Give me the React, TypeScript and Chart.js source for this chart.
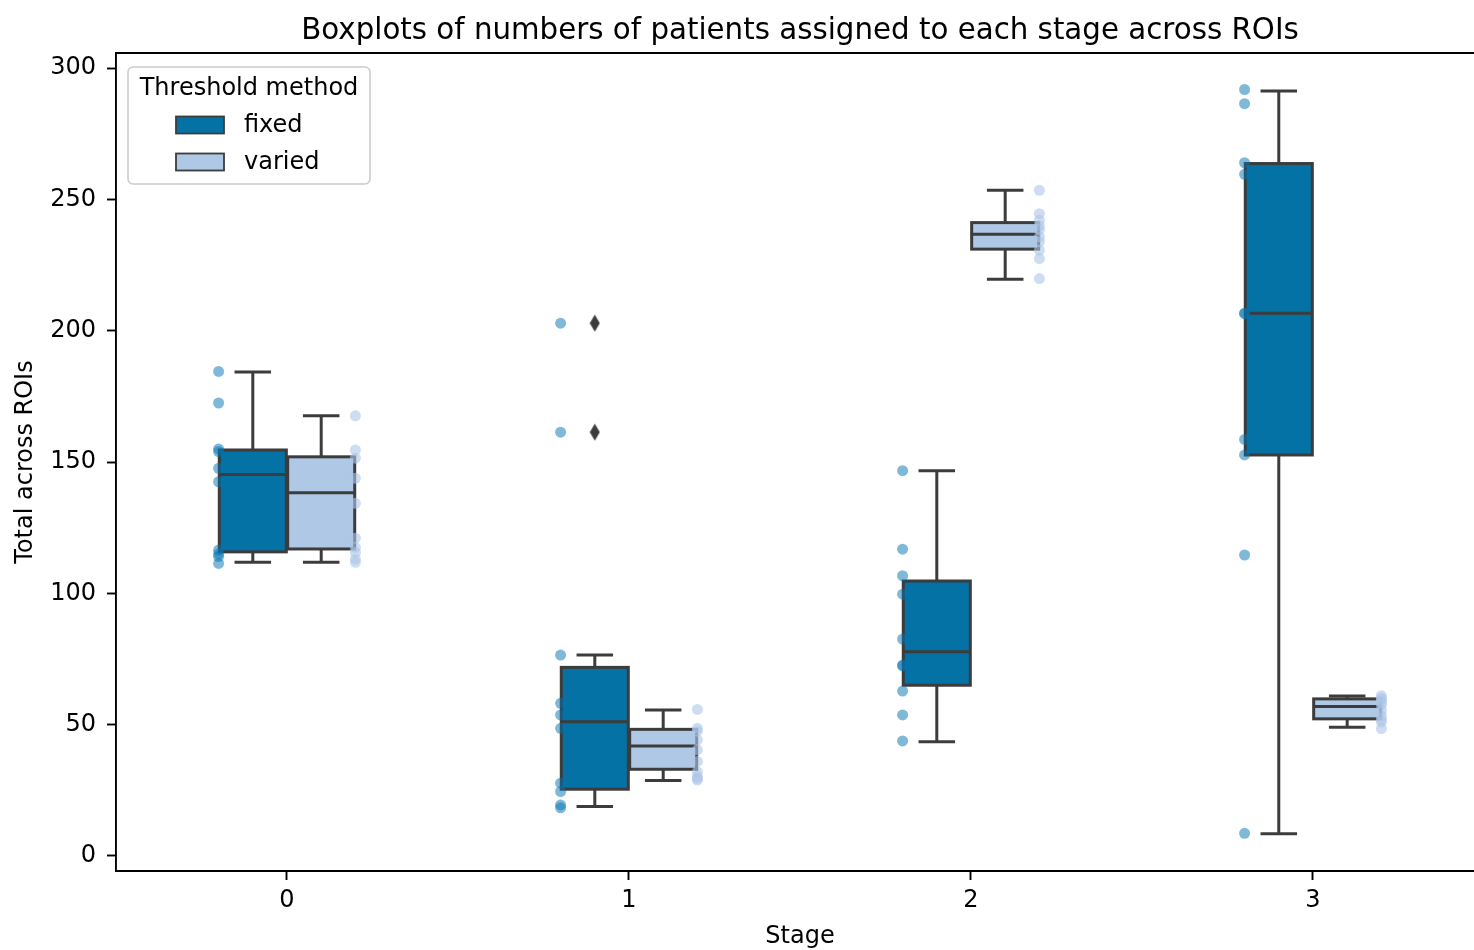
import React, { useEffect, useRef } from "react";
import { Chart, registerables } from "chart.js";

Chart.register(...registerables);

// Stage categories (x axis) and threshold methods (hue levels)
const stages = ["0", "1", "2", "3"];
const methods = ["fixed", "varied"];

// Box summaries per stage for the "fixed" method
const fixedWhiskerLow = [111.8, 18.8, 43.5, 8.4];
const fixedQ1 = [115.8, 25.4, 65.0, 152.7];
const fixedMedian = [145.3, 51.1, 77.8, 206.7];
const fixedQ3 = [154.6, 71.8, 104.7, 263.7];
const fixedWhiskerHigh = [184.3, 76.5, 146.7, 291.3];

// Box summaries per stage for the "varied" method
const variedWhiskerLow = [111.8, 28.7, 219.6, 49.0];
const variedQ1 = [116.9, 33.0, 231.1, 52.2];
const variedMedian = [138.3, 41.9, 236.8, 56.9];
const variedQ3 = [152.0, 48.2, 241.2, 59.8];
const variedWhiskerHigh = [167.6, 55.6, 253.5, 60.9];

// Values beyond the whiskers
const fixedOutliers = [[], [202.9, 161.4], [], []];
const variedOutliers = [[], [], [], []];

// Per-ROI totals shown as a strip next to each box
const fixedTotals = [
  [184.5, 172.5, 155.0, 154.0, 147.6, 142.5, 116.5, 115.0, 114.0, 111.4],
  [202.9, 161.4, 76.5, 58.1, 53.7, 48.6, 27.7, 24.5, 19.4, 18.3],
  [146.7, 116.8, 106.7, 99.7, 82.6, 72.7, 72.4, 62.8, 53.7, 43.8],
  [291.9, 286.5, 264.0, 259.6, 206.7, 206.5, 158.6, 152.7, 114.6, 8.6],
];
const variedTotals = [
  [167.6, 154.6, 151.5, 143.8, 134.3, 121.0, 117.5, 115.6, 113.0, 111.8],
  [55.8, 48.6, 47.5, 44.2, 40.4, 36.0, 32.0, 30.2, 29.5, 28.9],
  [253.5, 244.6, 242.1, 240.0, 238.5, 235.8, 233.9, 230.7, 227.5, 219.9],
  [61.0, 60.0, 59.5, 58.5, 57.5, 55.5, 53.5, 52.0, 51.0, 48.5],
];

const yTicks = [0, 50, 100, 150, 200, 250, 300];

const chartTitle = "Boxplots of numbers of patients assigned to each stage across ROIs";
const xTitle = "Stage";
const yTitle = "Total across ROIs";
const legendTitle = "Threshold method";

// Styling
const FONT = "'DejaVu Sans', 'Liberation Sans', sans-serif";
const boxFills = ["#0472a4", "#aec8e6"];
const pointFills = ["rgba(1,115,178,0.5)", "rgba(174,199,232,0.6)"];
const edgeGray = "#3c3c3c";
const boxLineWidth = 3;
const spineWidth = 1.9;
const boxGroupWidth = 0.4; // total width shared by the two boxes of a stage
const stripGroupWidth = 0.8; // strip points sit at the outer edges of the boxes

const boxOffset = (k: number) => (k - 0.5) * (boxGroupWidth / 2);
const stripOffset = (k: number) => (k - 0.5) * (stripGroupWidth / 2);

function makeDiamond(): HTMLCanvasElement {
  const c = document.createElement("canvas");
  c.width = 11;
  c.height = 18;
  const g = c.getContext("2d")!;
  g.fillStyle = edgeGray;
  g.beginPath();
  g.moveTo(5.5, 0.5);
  g.lineTo(10.5, 9);
  g.lineTo(5.5, 17.5);
  g.lineTo(0.5, 9);
  g.closePath();
  g.fill();
  return c;
}

// Outline, median, whiskers and caps drawn on top of each floating bar
const boxPartsPlugin = {
  id: "boxParts",
  afterDatasetDraw(chart: any, args: any) {
    const ds = chart.data.datasets[args.index];
    const stats = ds.boxStats;
    if (!stats) return;
    const { ctx } = chart;
    const yScale = chart.scales.y;
    const seg = (x1: number, y1: number, x2: number, y2: number) => {
      ctx.beginPath();
      ctx.moveTo(x1, y1);
      ctx.lineTo(x2, y2);
      ctx.stroke();
    };
    ctx.save();
    ctx.strokeStyle = edgeGray;
    ctx.lineWidth = boxLineWidth;
    args.meta.data.forEach((bar: any, i: number) => {
      const { x, width } = bar.getProps(["x", "width"], true);
      const half = width / 2;
      const yLo = yScale.getPixelForValue(stats.lo[i]);
      const yQ1 = yScale.getPixelForValue(stats.q1[i]);
      const yMed = yScale.getPixelForValue(stats.med[i]);
      const yQ3 = yScale.getPixelForValue(stats.q3[i]);
      const yHi = yScale.getPixelForValue(stats.hi[i]);
      ctx.lineJoin = "miter";
      ctx.lineCap = "butt";
      ctx.strokeRect(x - half, yQ3, width, yQ1 - yQ3);
      seg(x - half, yMed, x + half, yMed);
      seg(x, yQ3, x, yHi);
      seg(x, yQ1, x, yLo);
      ctx.lineCap = "square";
      seg(x - half / 2, yHi, x + half / 2, yHi);
      seg(x - half / 2, yLo, x + half / 2, yLo);
    });
    ctx.restore();
  },
};

// Top spine, the chart title and the x-axis title, centred over the stage range
const frameTopPlugin = {
  id: "frameTop",
  afterDatasetsDraw(chart: any) {
    const { ctx, chartArea } = chart;
    ctx.save();
    ctx.strokeStyle = "#000";
    ctx.lineWidth = spineWidth;
    ctx.beginPath();
    ctx.moveTo(chartArea.left - spineWidth / 2, chartArea.top);
    ctx.lineTo(chartArea.right, chartArea.top);
    ctx.stroke();

    const xScale = chart.scales.x;
    const cx = xScale.getPixelForValue((stages.length - 1) / 2);
    ctx.fillStyle = "#000";
    ctx.textAlign = "center";
    ctx.font = `29.3px ${FONT}`;
    ctx.textBaseline = "alphabetic";
    ctx.fillText(chartTitle, cx, chartArea.top - 14.4);

    ctx.font = `24px ${FONT}`;
    ctx.textBaseline = "middle";
    ctx.fillText(xTitle, cx, xScale.bottom - 13.6);
    ctx.restore();
  },
};

// Legend box in the upper-left corner of the plot
const methodLegendPlugin = {
  id: "methodLegend",
  afterDraw(chart: any) {
    const { ctx, chartArea } = chart;
    const left = chartArea.left + 12;
    const top = chartArea.top + 14;
    const w = 242;
    const h = 117;
    const r = 5;
    ctx.save();
    ctx.beginPath();
    ctx.moveTo(left + r, top);
    ctx.arcTo(left + w, top, left + w, top + h, r);
    ctx.arcTo(left + w, top + h, left, top + h, r);
    ctx.arcTo(left, top + h, left, top, r);
    ctx.arcTo(left, top, left + w, top, r);
    ctx.closePath();
    ctx.fillStyle = "rgba(255,255,255,0.8)";
    ctx.fill();
    ctx.strokeStyle = "#cccccc";
    ctx.lineWidth = 1.6;
    ctx.stroke();

    ctx.fillStyle = "#000";
    ctx.font = `24px ${FONT}`;
    ctx.textBaseline = "middle";
    ctx.textAlign = "center";
    ctx.fillText(legendTitle, left + w / 2, top + 22);

    methods.forEach((m, k) => {
      const cy = top + 58 + k * 37;
      ctx.fillStyle = boxFills[k];
      ctx.fillRect(left + 48, cy - 8.5, 48, 17);
      ctx.strokeStyle = edgeGray;
      ctx.lineWidth = 1.8;
      ctx.strokeRect(left + 48, cy - 8.5, 48, 17);
      ctx.fillStyle = "#000";
      ctx.textAlign = "left";
      ctx.fillText(m, left + 116, cy + 1);
    });
    ctx.restore();
  },
};

export default function App() {
  const canvasRef = useRef<HTMLCanvasElement | null>(null);

  useEffect(() => {
    if (!canvasRef.current) return;
    const diamond = makeDiamond();

    const boxStats = [
      { lo: fixedWhiskerLow, q1: fixedQ1, med: fixedMedian, q3: fixedQ3, hi: fixedWhiskerHigh },
      { lo: variedWhiskerLow, q1: variedQ1, med: variedMedian, q3: variedQ3, hi: variedWhiskerHigh },
    ];
    const outliers = [fixedOutliers, variedOutliers];
    const totals = [fixedTotals, variedTotals];

    const boxDatasets = methods.map((m, k) => ({
      type: "bar" as const,
      label: m,
      data: stages.map((_, i) => ({ x: i, y: [boxStats[k].q1[i], boxStats[k].q3[i]] })),
      backgroundColor: boxFills[k],
      borderWidth: 0,
      categoryPercentage: boxGroupWidth,
      barPercentage: 0.98,
      order: 3 + k,
      boxStats: boxStats[k],
    }));

    const outlierDatasets = methods.map((m, k) => ({
      type: "scatter" as const,
      label: `${m} outliers`,
      data: outliers[k].flatMap((vals, i) => vals.map((v) => ({ x: i + boxOffset(k), y: v }))),
      pointStyle: diamond,
      pointRadius: 6,
      order: 2,
    }));

    const stripDatasets = methods.map((m, k) => ({
      type: "scatter" as const,
      label: `${m} ROIs`,
      data: totals[k].flatMap((vals, i) => vals.map((v) => ({ x: i + stripOffset(k), y: v }))),
      backgroundColor: pointFills[k],
      borderWidth: 0,
      pointRadius: 5.5,
      order: 1,
    }));

    const chart = new Chart(canvasRef.current, {
      type: "bar",
      data: { datasets: [...boxDatasets, ...outlierDatasets, ...stripDatasets] as any },
      options: {
        responsive: false,
        animation: false,
        events: [],
        layout: { autoPadding: false, padding: { top: 53, left: 0, right: 0, bottom: 0 } },
        plugins: {
          legend: { display: false },
          tooltip: { enabled: false },
          title: { display: false },
        },
        scales: {
          x: {
            type: "linear",
            min: -0.5,
            max: 3.4708,
            offset: false,
            grid: {
              display: true,
              offset: false,
              drawOnChartArea: false,
              drawTicks: true,
              tickLength: 9,
              tickColor: "#000",
              tickWidth: spineWidth,
            },
            border: { display: true, color: "#000", width: spineWidth },
            ticks: {
              color: "#000",
              font: { family: FONT, size: 24 },
              padding: 6,
              maxRotation: 0,
              callback: (v: any) => stages[Number(v)] ?? "",
            },
            afterBuildTicks: (scale: any) => {
              scale.ticks = stages.map((_, i) => ({ value: i }));
            },
            afterFit: (scale: any) => {
              scale.height = 79;
              scale.paddingLeft = 0;
              scale.paddingRight = 0;
            },
            title: { display: false },
          },
          y: {
            type: "linear",
            min: -5.75,
            max: 305.8,
            grid: {
              display: true,
              drawOnChartArea: false,
              drawTicks: true,
              tickLength: 9,
              tickColor: "#000",
              tickWidth: spineWidth,
            },
            border: { display: true, color: "#000", width: spineWidth },
            ticks: {
              color: "#000",
              font: { family: FONT, size: 24 },
              padding: 11,
              callback: (v: any) => String(v),
            },
            afterBuildTicks: (scale: any) => {
              scale.ticks = yTicks.map((v) => ({ value: v }));
            },
            afterFit: (scale: any) => {
              scale.width = 116;
              scale.paddingTop = 0;
              scale.paddingBottom = 0;
            },
            title: {
              display: true,
              text: yTitle,
              color: "#000",
              font: { family: FONT, size: 24 },
              padding: { top: 11, bottom: 0 },
            },
          },
        },
      },
      plugins: [boxPartsPlugin, frameTopPlugin, methodLegendPlugin],
    } as any);

    return () => chart.destroy();
  }, []);

  return (
    <div style={{ position: "absolute", left: 0, top: 0, width: 1474, height: 950, background: "#fff" }}>
      <canvas ref={canvasRef} width={1474} height={950} style={{ display: "block" }} />
    </div>
  );
}
